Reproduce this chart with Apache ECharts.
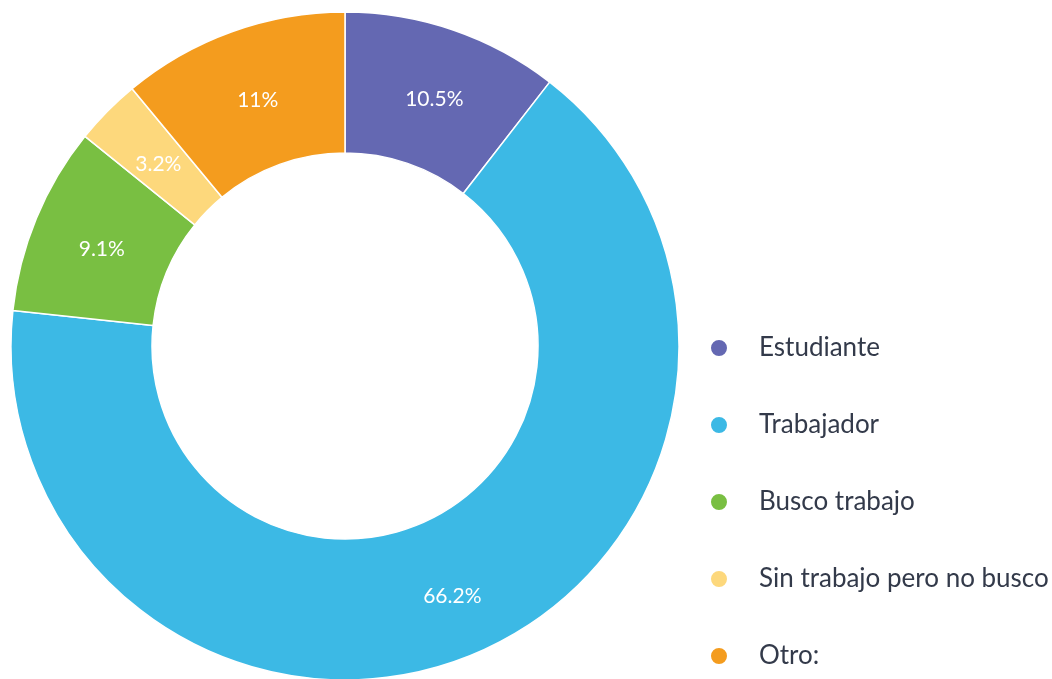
<!DOCTYPE html>
<html>
<head>
<meta charset="utf-8">
<script src="https://cdn.jsdelivr.net/npm/echarts@6/dist/echarts.min.js"></script>
<style>html,body{margin:0;padding:0;background:#fff;}#c{width:1052px;height:679px;}</style>
</head>
<body>
<div id="c"></div>
<script>
const categories = ['Estudiante', 'Trabajador', 'Busco trabajo', 'Sin trabajo pero no busco', 'Otro:'];
const values = [10.5, 66.2, 9.1, 3.2, 11];
const colors = ['#6468b2', '#3cb9e5', '#79bf42', '#fdd87c', '#f49c1e'];

const chart = echarts.init(document.getElementById('c'));
chart.setOption({
  animation: false,
  color: colors,
  legend: {
    orient: 'vertical',
    left: 704,
    top: 330,
    padding: 5,
    icon: 'circle',
    itemWidth: 18,
    itemHeight: 18,
    itemGap: 51,
    textStyle: { fontFamily: 'Lato', fontSize: 26, color: '#333a4a', lineHeight: 26, padding: [0, 0, 0, 26] },
    data: categories
  },
  series: [{
    type: 'pie',
    center: [345, 346],
    radius: [193, 334],
    startAngle: 90,
    clockwise: true,
    avoidLabelOverlap: false,
    itemStyle: { borderColor: '#ffffff', borderWidth: 1.5 },
    label: {
      show: true,
      position: 'inside',
      formatter: function (p) { return '{v|' + p.value + '%}'; },
      rich: {
        v: { fontFamily: 'Lato', fontSize: 21, color: '#ffffff', padding: [10, 0, 0, 6] }
      }
    },
    labelLine: { show: false },
    emphasis: { disabled: true },
    data: categories.map((c, i) => ({ name: c, value: values[i] }))
  }]
});
</script>
</body>
</html>
